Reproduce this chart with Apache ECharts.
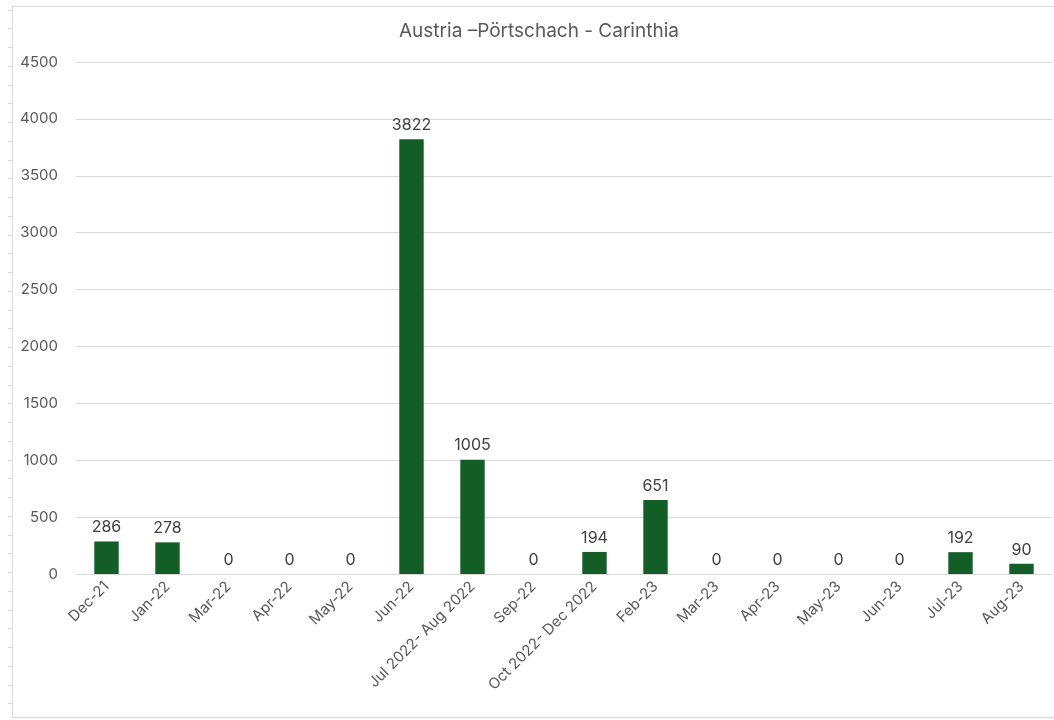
<!DOCTYPE html>
<html>
<head>
<meta charset="utf-8">
<script src="https://cdn.jsdelivr.net/npm/echarts@6/dist/echarts.min.js"></script>
<style>
html,body{margin:0;padding:0;background:#fff;}
#c{width:1054px;height:720px;}
</style>
</head>
<body>
<div id="c"></div>
<script>
var title = 'Austria –Pörtschach - Carinthia';
var categories = ['Dec-21','Jan-22','Mar-22','Apr-22','May-22','Jun-22','Jul 2022- Aug 2022','Sep-22','Oct 2022- Dec 2022','Feb-23','Mar-23','Apr-23','May-23','Jun-23','Jul-23','Aug-23'];
var values = [286, 278, 0, 0, 0, 3822, 1005, 0, 194, 651, 0, 0, 0, 0, 192, 90];
var yTicks = [0, 500, 1000, 1500, 2000, 2500, 3000, 3500, 4000, 4500];

var font = 'Inter, "Liberation Sans", Arial, sans-serif';
var frameColor = '#d9d9d9';

// decorative frame with small ruler ticks on the left edge
var frame = [
  {type:'line', shape:{x1:12.5,y1:6,x2:12.5,y2:718}, style:{stroke:frameColor,lineWidth:1}, silent:true},
  {type:'line', shape:{x1:12,y1:6.5,x2:1054,y2:6.5}, style:{stroke:frameColor,lineWidth:1}, silent:true},
  {type:'line', shape:{x1:12,y1:717.5,x2:1054,y2:717.5}, style:{stroke:frameColor,lineWidth:1.5}, silent:true}
];
for (var ty = 9.5; ty < 716; ty += 18.75) {
  var yy = Math.round(ty) + 0.5;
  frame.push({type:'line', shape:{x1:8,y1:yy,x2:12,y2:yy}, style:{stroke:frameColor,lineWidth:1}, silent:true});
}

var chart = echarts.init(document.getElementById('c'), null, {renderer:'canvas'});
chart.setOption({
  animation: false,
  backgroundColor: '#ffffff',
  title: {
    text: title,
    left: 394,
    top: 17,
    textStyle: {fontFamily: font, fontSize: 19, fontWeight: 'normal', color: '#595959'}
  },
  graphic: frame,
  grid: {left: 76, right: 2, top: 62, bottom: 146, containLabel: false},
  xAxis: {
    type: 'category',
    data: categories,
    axisLine: {show: true, lineStyle: {color: frameColor, width: 1}},
    axisTick: {show: false},
    axisLabel: {
      interval: 0,
      rotate: 45,
      margin: 10,
      fontFamily: font,
      fontSize: 15,
      color: '#595959'
    }
  },
  yAxis: {
    type: 'value',
    min: yTicks[0],
    max: yTicks[yTicks.length - 1],
    interval: yTicks[1] - yTicks[0],
    axisLine: {show: false},
    axisTick: {show: false},
    splitLine: {lineStyle: {color: frameColor, width: 1}},
    axisLabel: {
      margin: 18,
      fontFamily: font,
      fontSize: 15,
      color: '#595959',
      formatter: function (v) { return String(v); }
    }
  },
  series: [{
    type: 'bar',
    data: values,
    barWidth: '40%',
    itemStyle: {color: '#135e26'},
    label: {
      show: true,
      position: 'top',
      distance: 6,
      fontFamily: font,
      fontSize: 16,
      color: '#404040'
    }
  }]
});
</script>
</body>
</html>
